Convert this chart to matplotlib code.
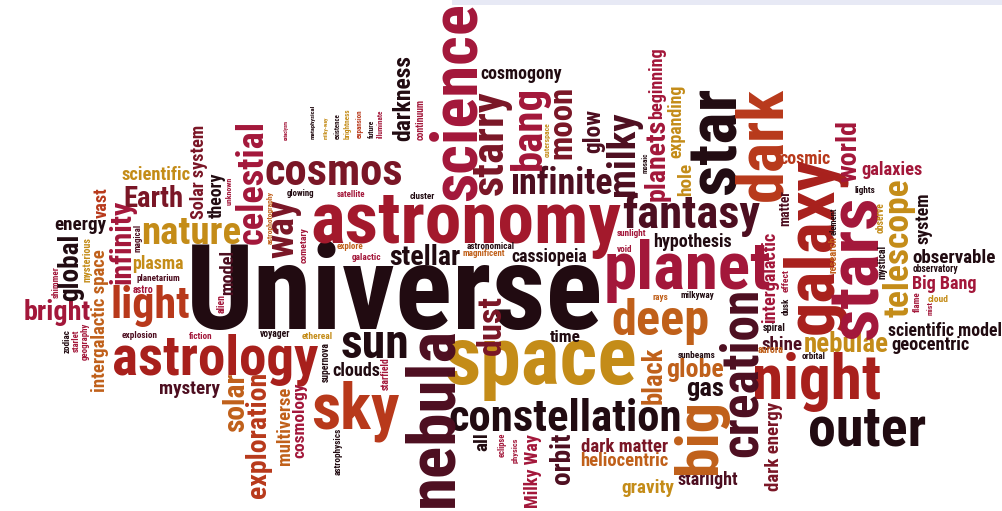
import os
import matplotlib
matplotlib.use('Agg')
import matplotlib.pyplot as plt
from matplotlib import font_manager as fm
from matplotlib.patches import Rectangle
from matplotlib.textpath import TextPath

# palette (maroon / crimson / orange / gold)
COLOURS = {
    'K': '#210b11',
    'M': '#4d0e20',
    'W': '#7a1626',
    'C': '#a3173a',
    'A': '#a3192c',
    'R': '#a8201c',
    'E': '#b8391b',
    'O': '#c0601a',
    'G': '#c48c18',
}

# the words of the cloud
WORDS = [
    'Universe', 'astronomy', 'planet', 'space', 'constellation', 'astrology',
    'cosmos', 'night', 'outer', 'sky', 'deep', 'fantasy', 'sun', 'nature',
    'light', 'infinite', 'stellar', 'cassiopeia', 'hypothesis', 'cosmogony',
    'Earth', 'scientific', 'energy', 'plasma', 'bright', 'mystery', 'clouds',
    'dark matter', 'heliocentric', 'gravity', 'starlight', 'globe', 'gas',
    'time', 'shine', 'nebulae', 'geocentric', 'scientific model', 'observable',
    'Big Bang', 'galaxies', 'cosmic',
    'planetarium', 'astro', 'explosion', 'fiction', 'voyager', 'ethereal',
    'glowing', 'satellite', 'cluster', 'explore', 'galactic', 'astronomical',
    'magnificent', 'sunlight', 'void', 'rays', 'milkyway', 'sunbeams',
    'aurora', 'orbital', 'spiral', 'lights', 'observatory', 'cloud',
    'science', 'galaxy', 'stars', 'telescope', 'nebula', 'creation',
    'celestial', 'star', 'dark', 'big', 'starry', 'bang', 'moon', 'milky',
    'planets', 'beginning', 'expanding', 'glow', 'hole', 'darkness', 'world',
    'matter', 'intergalactic', 'dark energy', 'Milky Way', 'orbit', 'black',
    'dust', 'exploration', 'multiverse', 'cosmology', 'solar',
    'intergalactic space', 'global', 'infinity', 'vast', 'Solar system',
    'theory', 'model', 'way', 'system',
    'continuum', 'illuminate', 'future', 'expansion', 'brightness',
    'existence', 'milky-way', 'metaphysical', 'cataclysm', 'unknown',
    'magical', 'mysterious', 'shimmer', 'zodiac', 'starlet', 'geography',
    'alien', 'supernova', 'astrophysics', 'starfield', 'all', 'eclipse',
    'physics', 'outerspace', 'mosaic', 'cometary', 'astrophotography',
    'dusk', 'effect', 'research', 'element', 'observe', 'mystical', 'flame',
    'mist',
]

# layout: ink centre x, ink centre y, length in px, vertical?, colour key
PLACEMENT = {
    'Universe': (395, 286, 408, 0, 'K'),
    'astronomy': (466, 227, 308, 0, 'A'),
    'planet': (688, 271, 163, 0, 'C'),
    'space': (541, 370, 189, 0, 'G'),
    'constellation': (565, 414, 230, 0, 'K'),
    'astrology': (215, 360, 204, 0, 'R'),
    'cosmos': (334, 173, 136, 0, 'W'),
    'night': (817, 382, 125, 0, 'R'),
    'outer': (867, 427, 115, 0, 'K'),
    'sky': (355, 411, 86, 0, 'E'),
    'deep': (660, 321, 95, 0, 'O'),
    'fantasy': (691, 215, 137, 0, 'M'),
    'sun': (375, 345, 65, 0, 'K'),
    'nature': (191, 231, 97, 0, 'G'),
    'light': (150, 306, 76, 0, 'E'),
    'infinite': (562, 180, 100, 0, 'M'),
    'stellar': (425, 255, 70, 0, 'K'),
    'cassiopeia': (549, 257, 75, 0, 'K'),
    'hypothesis': (692, 242, 77, 0, 'K'),
    'cosmogony': (521, 76, 81, 0, 'K'),
    'Earth': (153, 196, 57, 0, 'W'),
    'scientific': (156, 173, 68, 0, 'G'),
    'energy': (80, 227, 51, 0, 'K'),
    'plasma': (158, 264, 50, 0, 'G'),
    'bright': (57, 312, 65, 0, 'C'),
    'mystery': (190, 390, 60, 0, 'M'),
    'clouds': (356, 369, 47, 0, 'K'),
    'dark matter': (625, 445, 86, 0, 'W'),
    'heliocentric': (624, 459, 87, 0, 'O'),
    'gravity': (648, 488, 52, 0, 'G'),
    'starlight': (708, 480, 60, 0, 'M'),
    'globe': (695, 370, 56, 0, 'O'),
    'gas': (705, 392, 36, 0, 'K'),
    'time': (565, 336, 30, 0, 'K'),
    'shine': (782, 343, 40, 0, 'M'),
    'nebulae': (846, 342, 83, 0, 'G'),
    'geocentric': (931, 345, 77, 0, 'K'),
    'scientific model': (945, 329, 113, 0, 'K'),
    'observable': (954, 256, 82, 0, 'K'),
    'Big Bang': (944, 284, 63, 0, 'C'),
    'galaxies': (892, 170, 60, 0, 'C'),
    'cosmic': (805, 158, 50, 0, 'E'),
    'planetarium': (158, 278, 43, 0, 'M'),
    'astro': (143, 290, 20, 0, 'C'),
    'explosion': (140, 335, 35, 0, 'M'),
    'fiction': (201, 336, 23, 0, 'C'),
    'voyager': (275, 335, 30, 0, 'K'),
    'ethereal': (317, 336, 30, 0, 'G'),
    'glowing': (301, 194, 27, 0, 'K'),
    'satellite': (351, 194, 28, 0, 'C'),
    'cluster': (422, 196, 25, 0, 'K'),
    'explore': (350, 247, 26, 0, 'O'),
    'galactic': (367, 257, 29, 0, 'C'),
    'astronomical': (491, 246, 47, 0, 'K'),
    'magnificent': (484, 254, 42, 0, 'O'),
    'sunlight': (632, 234, 29, 0, 'C'),
    'void': (625, 249, 15, 0, 'C'),
    'rays': (660, 298, 15, 0, 'O'),
    'milkyway': (697, 296, 33, 0, 'K'),
    'sunbeams': (697, 355, 37, 0, 'K'),
    'aurora': (771, 350, 25, 0, 'O'),
    'orbital': (814, 356, 23, 0, 'K'),
    'spiral': (774, 328, 22, 0, 'K'),
    'lights': (865, 191, 20, 0, 'K'),
    'observatory': (935, 269, 45, 0, 'K'),
    'cloud': (938, 298, 20, 0, 'G'),
    'science': (452, 102, 195, 1, 'C'),
    'galaxy': (814, 245, 174, 1, 'R'),
    'stars': (854, 267, 139, 1, 'C'),
    'telescope': (899, 248, 137, 1, 'G'),
    'nebula': (428, 417, 175, 1, 'M'),
    'creation': (738, 372, 165, 1, 'M'),
    'celestial': (249, 182, 121, 1, 'C'),
    'star': (713, 140, 104, 1, 'K'),
    'dark': (758, 144, 112, 1, 'E'),
    'big': (700, 437, 69, 1, 'O'),
    'starry': (493, 143, 103, 1, 'W'),
    'bang': (529, 128, 80, 1, 'C'),
    'moon': (563, 122, 70, 1, 'W'),
    'milky': (624, 154, 82, 1, 'M'),
    'planets': (657, 160, 80, 1, 'C'),
    'beginning': (657, 83, 70, 1, 'C'),
    'expanding': (677, 121, 72, 1, 'G'),
    'glow': (594, 131, 43, 1, 'M'),
    'hole': (684, 179, 32, 1, 'G'),
    'darkness': (401, 98, 85, 1, 'K'),
    'world': (846, 151, 60, 1, 'C'),
    'matter': (785, 208, 35, 1, 'M'),
    'intergalactic': (770, 277, 90, 1, 'C'),
    'dark energy': (774, 446, 88, 1, 'W'),
    'Milky Way': (533, 471, 73, 1, 'C'),
    'orbit': (560, 458, 50, 1, 'M'),
    'black': (652, 375, 56, 1, 'O'),
    'dust': (488, 325, 58, 1, 'W'),
    'exploration': (258, 435, 124, 1, 'E'),
    'multiverse': (283, 426, 77, 1, 'O'),
    'cosmology': (300, 420, 75, 1, 'C'),
    'solar': (233, 402, 58, 1, 'O'),
    'intergalactic space': (100, 321, 142, 1, 'O'),
    'global': (71, 267, 65, 1, 'K'),
    'infinity': (122, 242, 83, 1, 'C'),
    'vast': (101, 203, 30, 1, 'E'),
    'Solar system': (199, 172, 93, 1, 'W'),
    'theory': (217, 195, 45, 1, 'K'),
    'model': (226, 272, 43, 1, 'M'),
    'way': (287, 229, 58, 1, 'W'),
    'system': (925, 218, 50, 1, 'K'),
    'continuum': (420, 120, 40, 1, 'C'),
    'illuminate': (380, 124, 28, 1, 'C'),
    'future': (371, 129, 18, 1, 'K'),
    'expansion': (360, 124, 28, 1, 'E'),
    'brightness': (348, 124, 30, 1, 'G'),
    'existence': (337, 126, 25, 1, 'K'),
    'milky-way': (326, 128, 22, 1, 'G'),
    'metaphysical': (313, 122, 33, 1, 'K'),
    'cataclysm': (287, 130, 20, 1, 'C'),
    'unknown': (229, 191, 28, 1, 'C'),
    'magical': (138, 238, 27, 1, 'M'),
    'mysterious': (88, 260, 44, 1, 'G'),
    'shimmer': (55, 282, 31, 1, 'C'),
    'zodiac': (66, 341, 23, 1, 'K'),
    'starlet': (76, 341, 22, 1, 'C'),
    'geography': (85, 341, 37, 1, 'C'),
    'alien': (221, 304, 18, 1, 'C'),
    'supernova': (327, 362, 39, 1, 'K'),
    'astrophysics': (338, 451, 47, 1, 'K'),
    'starfield': (385, 374, 32, 1, 'C'),
    'all': (480, 442, 17, 1, 'K'),
    'eclipse': (502, 445, 24, 1, 'C'),
    'physics': (515, 450, 25, 1, 'C'),
    'outerspace': (548, 140, 34, 1, 'G'),
    'mosaic': (645, 163, 20, 1, 'K'),
    'cometary': (305, 245, 35, 1, 'C'),
    'astrophotography': (271, 218, 53, 1, 'O'),
    'dusk': (785, 306, 17, 1, 'K'),
    'effect': (785, 281, 22, 1, 'C'),
    'research': (833, 255, 36, 1, 'O'),
    'element': (833, 221, 27, 1, 'K'),
    'observe': (880, 218, 30, 1, 'G'),
    'mystical': (883, 262, 33, 1, 'K'),
    'flame': (916, 302, 20, 1, 'C'),
    'mist': (930, 308, 13, 1, 'C'),
}

W_PX, H_PX, DPI = 1003, 511, 100


def pick_font():
    entries = fm.fontManager.ttflist

    def weight(f):
        w = f.weight
        if isinstance(w, str):
            w = fm.weight_dict.get(w, 400)
        return w

    def condensed(f):
        tag = (f.name + str(f.stretch) + os.path.basename(f.fname)).lower()
        return 'condensed' in tag or 'narrow' in tag

    tests = [
        lambda f: f.name.startswith('Roboto Condensed'),
        lambda f: f.name == 'Liberation Sans Narrow',
        lambda f: 'DejaVu Sans' in f.name and condensed(f),
        lambda f: f.name == 'Liberation Sans',
    ]
    for test in tests:
        hits = [f for f in entries
                if test(f) and f.style == 'normal' and 600 <= weight(f) <= 900]
        if hits:
            # the cloud uses a heavy face: take the heaviest one there is
            return max(hits, key=weight).fname
    return fm.findfont(fm.FontProperties(weight='bold'))


def draw_word(ax, word, fp):
    cx, cy, length, vertical, key = PLACEMENT[word]
    # measure the ink box of the word, then size it to the wanted length
    bb = TextPath((0, 0), word, size=100, prop=fp).get_extents()
    k = length / bb.width
    fontsize = 100 * k * 72 / DPI
    mid = (bb.y0 + bb.y1) / 2 * k
    if vertical:
        ax.text(cx + mid, cy, word, fontproperties=fp, fontsize=fontsize,
                color=COLOURS[key], rotation=90, rotation_mode='anchor',
                ha='center', va='baseline')
    else:
        ax.text(cx, cy + mid, word, fontproperties=fp, fontsize=fontsize,
                color=COLOURS[key], ha='center', va='baseline')


fig = plt.figure(figsize=(W_PX / DPI, H_PX / DPI), dpi=DPI)
ax = fig.add_axes([0, 0, 1, 1])
ax.set_xlim(0, W_PX)
ax.set_ylim(H_PX, 0)
ax.axis('off')

# pale strip along the top edge
ax.add_patch(Rectangle((452, 0), W_PX - 452, 5, color='#e7e9f5', lw=0))

font = fm.FontProperties(fname=pick_font())
for w in WORDS:
    draw_word(ax, w, font)

fig.savefig('out.png', dpi=DPI, facecolor='white')
